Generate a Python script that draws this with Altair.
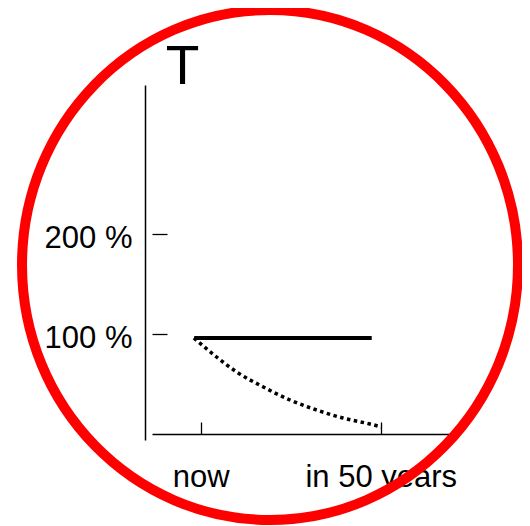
import altair as alt
import pandas as pd

# ---- data ----
solid_years = [-1.8, 47.5]
solid_pct = [96, 96]
dotted_years = [-1.9, 4.4, 10.0, 17.4, 24.8, 32.2, 39.5, 47.0, 50.3]
dotted_pct = [96, 77, 62, 47, 34, 24, 16, 10, 7]
x_tick_values = [0, 50]
x_tick_labels = ["now", "in 50 years"]
y_tick_values = [100, 200]
y_tick_labels = ["100 %", "200 %"]
y_title = "T"

solid = pd.DataFrame({"year": solid_years, "pct": solid_pct})
dotted = pd.DataFrame({"year": dotted_years, "pct": dotted_pct})
ring_df = pd.DataFrame({"ring": [0]})

FONT = "Liberation Sans"


def label_expr(values, labels):
    expr = "''"
    for v, l in reversed(list(zip(values, labels))):
        expr = f"datum.value == {v} ? '{l}' : ({expr})"
    return expr


xs = alt.Scale(domain=[-13.53, 69.8], nice=False, zero=False)
ys = alt.Scale(domain=[-6, 349], nice=False, zero=False)

main_x_axis = alt.Axis(
    orient="bottom", offset=-6, values=x_tick_values,
    labelExpr=label_expr(x_tick_values, x_tick_labels),
    ticks=False, tickSize=0, grid=False,
    domainColor="black", domainWidth=1.5,
    labelFont=FONT, labelFontSize=31, labelColor="black",
    labelPadding=28, labelFlush=False, labelOverlap=False,
    title=None, zindex=0,
)
main_y_axis = alt.Axis(
    orient="left", offset=7, values=y_tick_values,
    labelExpr=label_expr(y_tick_values, y_tick_labels),
    ticks=False, tickSize=0, grid=False,
    domainColor="black", domainWidth=1.5,
    labelFont=FONT, labelFontSize=31, labelColor="black",
    labelPadding=13, labelOffset=4, labelFlush=False, labelOverlap=False,
    title=y_title, titleAngle=0, titleX=37, titleY=-2,
    titleAlign="center", titleBaseline="alphabetic",
    titleFont=FONT, titleFontSize=55, titleFontWeight="normal",
    titleColor="black", zindex=0,
)
tick_x_axis = alt.Axis(
    orient="bottom", offset=-18, values=x_tick_values,
    domain=False, labels=False, ticks=True, tickSize=12,
    tickWidth=1.3, tickColor="black", grid=False, title=None, zindex=0,
)
tick_y_axis = alt.Axis(
    orient="left", offset=-15, values=y_tick_values,
    domain=False, labels=False, ticks=True, tickSize=15,
    tickWidth=1.3, tickColor="black", grid=False, title=None, zindex=0,
)

solid_line = alt.Chart(solid).mark_line(
    color="black", strokeWidth=4, strokeCap="butt"
).encode(
    x=alt.X("year:Q", scale=xs, axis=main_x_axis),
    y=alt.Y("pct:Q", scale=ys, axis=main_y_axis),
)

dotted_line = alt.Chart(dotted).mark_line(
    color="black", strokeWidth=3.5, strokeDash=[3.5, 3.5],
    strokeCap="butt", interpolate="monotone"
).encode(
    x=alt.X("year:Q", scale=xs, axis=tick_x_axis),
    y=alt.Y("pct:Q", scale=ys, axis=tick_y_axis),
)

ELLIPSE = ("M -0.9725 0 A 0.9725 1 0 1 0 0.9725 0 "
           "A 0.9725 1 0 1 0 -0.9725 0 Z")
ring = alt.Chart(ring_df).mark_point(
    shape=ELLIPSE, size=260100, filled=False,
    color="#ff0000", strokeWidth=10, opacity=1,
).encode(x=alt.value(118), y=alt.value(180))

chart = alt.layer(solid_line, dotted_line, ring).resolve_axis(
    x="independent", y="independent"
).properties(
    width=300, height=355,
    padding={"left": 144, "top": 77, "right": 70, "bottom": 86},
    autosize=alt.AutoSizeParams(type="none"),
    background="white",
).configure_view(stroke=None)

chart.save("out.html", embed_options={"renderer": "svg", "actions": False})
